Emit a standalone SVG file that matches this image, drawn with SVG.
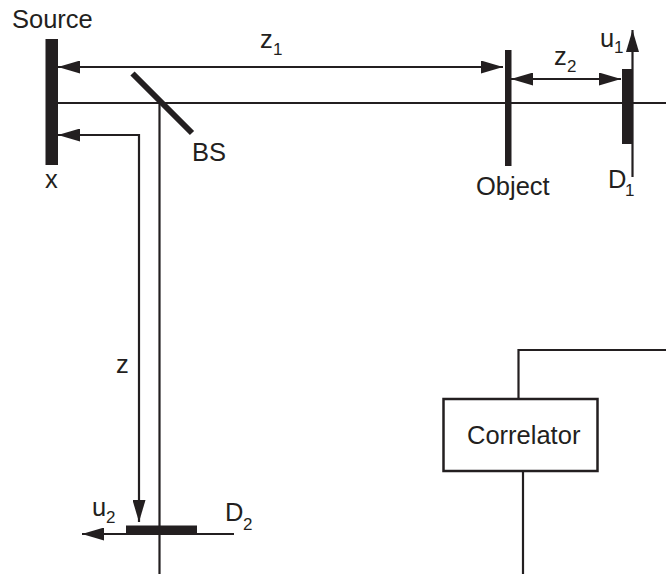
<svg xmlns="http://www.w3.org/2000/svg" width="666" height="574" viewBox="0 0 666 574">
<style>
text{font-family:"Liberation Sans",Arial,sans-serif;font-size:25.500px;fill:#231f20}
.s{font-size:17px}
.l{fill:none;stroke:#231f20;stroke-width:2.200}
.b{fill:#231f20}
</style>
<defs>
<marker id="a" markerUnits="userSpaceOnUse" markerWidth="22" markerHeight="13" refX="22" refY="6.500" orient="auto-start-reverse"><path d="M0 0L22 6.500L0 13Z" fill="#231f20"/></marker>
</defs>
<rect width="666" height="574" fill="#fff"/>
<g id="connectors">
<path class="l" d="M58 103H666"/>
<path class="l" d="M159.500 103V574"/>
<path class="l" d="M58 67H503" marker-start="url(#a)" marker-end="url(#a)"/>
<path class="l" d="M511 79H621" marker-start="url(#a)" marker-end="url(#a)"/>
<path class="l" d="M58 135H139V522" marker-start="url(#a)" marker-end="url(#a)"/>
<path class="l" d="M632.500 177V30" marker-end="url(#a)"/>
<path class="l" d="M234 534H82" marker-end="url(#a)"/>
<path class="l" d="M518.500 399V350H666"/>
<path class="l" d="M523 471V574"/>
</g>
<g id="source"><rect class="b" x="45.500" y="39" width="12.500" height="126"/><text x="12" y="28">Source</text><text x="45" y="188">x</text></g>
<g id="bs"><path d="M132.500 73.500L192 133" fill="none" stroke="#231f20" stroke-width="6"/><text x="192" y="161">BS</text></g>
<g id="object"><rect class="b" x="505" y="50" width="6.500" height="116"/><text x="476" y="195">Object</text></g>
<g id="d1"><rect class="b" x="622" y="69" width="11" height="75"/><text x="608" y="188">D</text><text class="s" x="625" y="196">1</text><text x="600" y="47">u</text><text class="s" x="614" y="53">1</text></g>
<g id="d2"><rect class="b" x="126" y="525.500" width="71" height="8.500"/><text x="225" y="521">D</text><text class="s" x="243" y="530">2</text><text x="92" y="516">u</text><text class="s" x="106" y="523">2</text></g>
<g id="correlator"><rect x="443.500" y="399" width="154" height="72" fill="#fff" stroke="#231f20" stroke-width="2.500"/><text x="467" y="444">Correlator</text></g>
<g id="labels"><text x="260" y="48">z</text><text class="s" x="273" y="55">1</text><text x="554" y="65">z</text><text class="s" x="567" y="72">2</text><text x="116" y="373">z</text></g>
</svg>
